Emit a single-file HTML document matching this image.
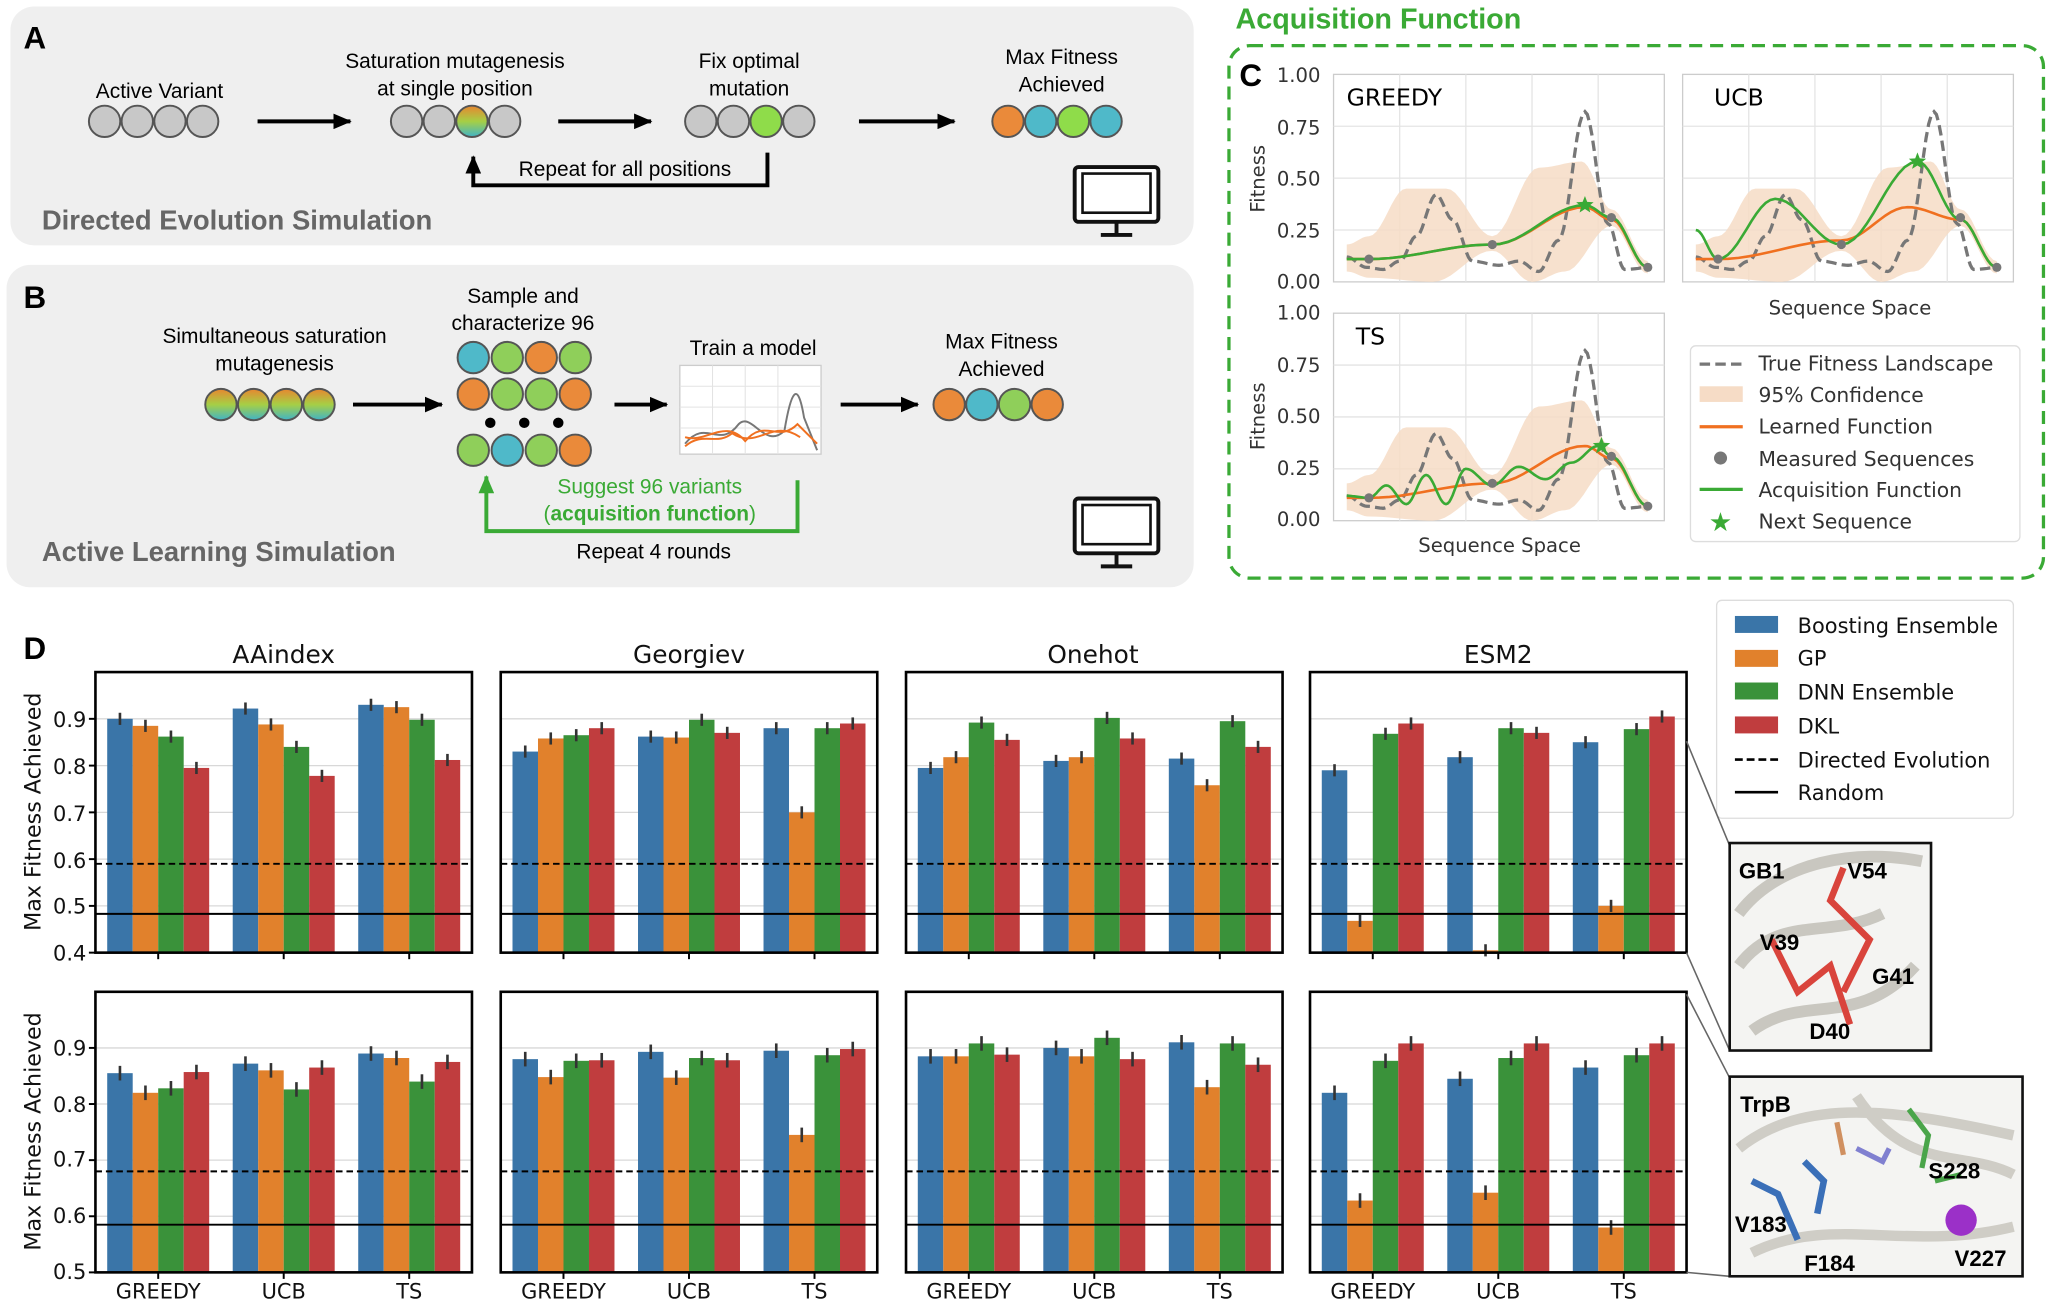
<!DOCTYPE html>
<html><head><meta charset="utf-8"><style>
html,body{margin:0;padding:0;background:#fff;}
svg{display:block;}
.t{font-family:"Liberation Sans",sans-serif;}
.d{font-family:"DejaVu Sans","Liberation Sans",sans-serif;}
</style></head><body>
<svg id="s" width="2050" height="1305" viewBox="0 0 1568 1000" preserveAspectRatio="none" xmlns="http://www.w3.org/2000/svg">
<rect width="1568" height="1000" fill="#fff"/>
<defs>
<marker id="ar" markerUnits="userSpaceOnUse" markerWidth="14" markerHeight="12" refX="13" refY="6" orient="auto"><path d="M0,0 L14,6 L0,12 z" fill="#000"/></marker>
<marker id="ag" markerUnits="userSpaceOnUse" markerWidth="14" markerHeight="12" refX="13" refY="6" orient="auto"><path d="M0,0 L14,6 L0,12 z" fill="#3aaa35"/></marker>
<linearGradient id="rb" x1="0" y1="0" x2="0" y2="1"><stop offset="0" stop-color="#e8862f"/><stop offset="0.5" stop-color="#a6cf45"/><stop offset="1" stop-color="#3fb4c8"/></linearGradient>
<g id="mon"><rect x="0" y="0" width="64" height="42" rx="3" fill="#fff" stroke="#111" stroke-width="3"/><rect x="6" y="5" width="52" height="30" fill="none" stroke="#111" stroke-width="2"/><line x1="32" y1="42" x2="32" y2="52" stroke="#111" stroke-width="3"/><line x1="20" y1="52" x2="44" y2="52" stroke="#111" stroke-width="3"/></g>
</defs>

<!-- Panel A -->
<rect x="8" y="5" width="905" height="183" rx="18" fill="#efefef"/>
<text x="18" y="37" class="t" font-size="24" font-weight="bold">A</text>
<text x="122" y="75" class="t" font-size="16" text-anchor="middle">Active Variant</text>
<g stroke="#555" stroke-width="1.5" fill="#c8c8c8"><circle cx="80" cy="93" r="12"/><circle cx="105" cy="93" r="12"/><circle cx="130" cy="93" r="12"/><circle cx="155" cy="93" r="12"/></g>
<line x1="197" y1="93" x2="268" y2="93" stroke="#000" stroke-width="3" marker-end="url(#ar)"/>
<text x="348" y="52" class="t" font-size="16" text-anchor="middle">Saturation mutagenesis</text>
<text x="348" y="73" class="t" font-size="16" text-anchor="middle">at single position</text>
<g stroke="#555" stroke-width="1.5"><circle cx="311" cy="93" r="12" fill="#c8c8c8"/><circle cx="336" cy="93" r="12" fill="#c8c8c8"/><circle cx="361" cy="93" r="12" fill="url(#rb)"/><circle cx="386" cy="93" r="12" fill="#c8c8c8"/></g>
<line x1="427" y1="93" x2="498" y2="93" stroke="#000" stroke-width="3" marker-end="url(#ar)"/>
<text x="573" y="52" class="t" font-size="16" text-anchor="middle">Fix optimal</text>
<text x="573" y="73" class="t" font-size="16" text-anchor="middle">mutation</text>
<g stroke="#555" stroke-width="1.5"><circle cx="536" cy="93" r="12" fill="#c8c8c8"/><circle cx="561" cy="93" r="12" fill="#c8c8c8"/><circle cx="586" cy="93" r="12" fill="#8fdc4a"/><circle cx="611" cy="93" r="12" fill="#c8c8c8"/></g>
<line x1="657" y1="93" x2="730" y2="93" stroke="#000" stroke-width="3" marker-end="url(#ar)"/>
<text x="812" y="49" class="t" font-size="16" text-anchor="middle">Max Fitness</text>
<text x="812" y="70" class="t" font-size="16" text-anchor="middle">Achieved</text>
<g stroke="#555" stroke-width="1.5"><circle cx="771" cy="93" r="12" fill="#ea8a3a"/><circle cx="796" cy="93" r="12" fill="#4fb9c9"/><circle cx="821" cy="93" r="12" fill="#8fdc4a"/><circle cx="846" cy="93" r="12" fill="#4fb9c9"/></g>
<path d="M587,117 L587,142 L362,142 L362,120" fill="none" stroke="#000" stroke-width="3" marker-end="url(#ar)"/>
<text x="478" y="135" class="t" font-size="16" text-anchor="middle">Repeat for all positions</text>
<text x="32" y="176" class="t" font-size="21" font-weight="bold" fill="#666">Directed Evolution Simulation</text>
<use href="#mon" x="822" y="128"/>

<!-- Panel B -->
<rect x="5" y="203" width="908" height="247" rx="18" fill="#efefef"/>
<text x="18" y="236" class="t" font-size="24" font-weight="bold">B</text>
<text x="210" y="263" class="t" font-size="16" text-anchor="middle">Simultaneous saturation</text>
<text x="210" y="284" class="t" font-size="16" text-anchor="middle">mutagenesis</text>
<g stroke="#555" stroke-width="1.5" fill="url(#rb)"><circle cx="169" cy="310" r="12"/><circle cx="194" cy="310" r="12"/><circle cx="219" cy="310" r="12"/><circle cx="244" cy="310" r="12"/></g>
<line x1="270" y1="310" x2="338" y2="310" stroke="#000" stroke-width="3" marker-end="url(#ar)"/>
<text x="400" y="232" class="t" font-size="16" text-anchor="middle">Sample and</text>
<text x="400" y="253" class="t" font-size="16" text-anchor="middle">characterize 96</text>
<g stroke="#555" stroke-width="1.5">
<circle cx="362" cy="274" r="12" fill="#4fb9c9"/><circle cx="388" cy="274" r="12" fill="#8fcf5a"/><circle cx="414" cy="274" r="12" fill="#ea8a3a"/><circle cx="440" cy="274" r="12" fill="#8fcf5a"/>
<circle cx="362" cy="302" r="12" fill="#ea8a3a"/><circle cx="388" cy="302" r="12" fill="#8fcf5a"/><circle cx="414" cy="302" r="12" fill="#8fcf5a"/><circle cx="440" cy="302" r="12" fill="#ea8a3a"/>
<circle cx="362" cy="345" r="12" fill="#8fcf5a"/><circle cx="388" cy="345" r="12" fill="#4fb9c9"/><circle cx="414" cy="345" r="12" fill="#8fcf5a"/><circle cx="440" cy="345" r="12" fill="#ea8a3a"/></g>
<circle cx="375" cy="324" r="4"/><circle cx="401" cy="324" r="4"/><circle cx="427" cy="324" r="4"/>
<line x1="470" y1="310" x2="510" y2="310" stroke="#000" stroke-width="3" marker-end="url(#ar)"/>
<text x="576" y="272" class="t" font-size="16" text-anchor="middle">Train a model</text>
<rect x="520" y="280" width="108" height="68" fill="#fff" stroke="#ccc"/>
<g stroke="#e3e3e3" stroke-width="0.8"><line x1="520" y1="296" x2="628" y2="296"/><line x1="520" y1="312" x2="628" y2="312"/><line x1="520" y1="328" x2="628" y2="328"/><line x1="545" y1="280" x2="545" y2="348"/><line x1="570" y1="280" x2="570" y2="348"/><line x1="595" y1="280" x2="595" y2="348"/></g>
<path d="M524,340 C540,320 550,345 565,325 C575,315 585,345 600,330 C605,300 610,290 615,320 L625,345" fill="none" stroke="#777" stroke-width="1.5"/>
<path d="M524,335 C540,340 555,320 570,338 C585,320 595,340 610,325 L625,340" fill="none" stroke="#f07020" stroke-width="1.5"/>
<path d="M524,342 C538,330 548,342 560,332 C580,345 590,320 612,335" fill="none" stroke="#f07020" stroke-width="1.5"/>
<line x1="643" y1="310" x2="702" y2="310" stroke="#000" stroke-width="3" marker-end="url(#ar)"/>
<text x="766" y="267" class="t" font-size="16" text-anchor="middle">Max Fitness</text>
<text x="766" y="288" class="t" font-size="16" text-anchor="middle">Achieved</text>
<g stroke="#555" stroke-width="1.5"><circle cx="726" cy="310" r="12" fill="#ea8a3a"/><circle cx="751" cy="310" r="12" fill="#4fb9c9"/><circle cx="776" cy="310" r="12" fill="#8fcf5a"/><circle cx="801" cy="310" r="12" fill="#ea8a3a"/></g>
<path d="M610,368 L610,407 L372,407 L372,365" fill="none" stroke="#3aaa35" stroke-width="3" marker-end="url(#ag)"/>
<text x="497" y="378" class="t" font-size="16" text-anchor="middle" fill="#3aaa35">Suggest 96 variants</text>
<text x="497" y="399" class="t" font-size="16" text-anchor="middle" fill="#3aaa35">(<tspan font-weight="bold">acquisition function</tspan>)</text>
<text x="500" y="428" class="t" font-size="16" text-anchor="middle">Repeat 4 rounds</text>
<text x="32" y="430" class="t" font-size="21" font-weight="bold" fill="#666">Active Learning Simulation</text>
<use href="#mon" x="822" y="382"/>

<!-- Panel C -->
<text x="945" y="22" class="t" font-size="22" font-weight="bold" fill="#3aaa35">Acquisition Function</text>
<rect x="940" y="35" width="623" height="408" rx="16" fill="none" stroke="#3aaa35" stroke-width="2.5" stroke-dasharray="10,6"/>
<text x="948" y="66" class="t" font-size="24" font-weight="bold">C</text>
<g id="cplots"></g>
<g class="d" font-size="15" fill="#333">
<text x="1010" y="63" text-anchor="end">1.00</text><text x="1010" y="103" text-anchor="end">0.75</text><text x="1010" y="142" text-anchor="end">0.50</text><text x="1010" y="182" text-anchor="end">0.25</text><text x="1010" y="221" text-anchor="end">0.00</text>
<text x="1010" y="245" text-anchor="end">1.00</text><text x="1010" y="285" text-anchor="end">0.75</text><text x="1010" y="324" text-anchor="end">0.50</text><text x="1010" y="364" text-anchor="end">0.25</text><text x="1010" y="403" text-anchor="end">0.00</text>
<text transform="translate(967,137) rotate(-90)" text-anchor="middle">Fitness</text>
<text transform="translate(967,319) rotate(-90)" text-anchor="middle">Fitness</text>
<text x="1415" y="241" text-anchor="middle">Sequence Space</text>
<text x="1147" y="423" text-anchor="middle">Sequence Space</text>
<text x="1030" y="81" font-size="18" fill="#000">GREEDY</text>
<text x="1311" y="81" font-size="18" fill="#000">UCB</text>
<text x="1037" y="264" font-size="18" fill="#000">TS</text>
</g>
<rect x="1293" y="265" width="252" height="150" rx="4" fill="#fff" stroke="#ddd"/>
<g class="d" font-size="15.5" fill="#333">
<line x1="1300" y1="279" x2="1333" y2="279" stroke="#777" stroke-width="2.5" stroke-dasharray="8,4"/><text x="1345" y="284">True Fitness Landscape</text>
<rect x="1300" y="296" width="33" height="12" fill="#f6dcc6"/><text x="1345" y="308">95% Confidence</text>
<line x1="1300" y1="327" x2="1333" y2="327" stroke="#f07020" stroke-width="2.5"/><text x="1345" y="332">Learned Function</text>
<circle cx="1316" cy="351" r="5" fill="#777"/><text x="1345" y="357">Measured Sequences</text>
<line x1="1300" y1="375" x2="1333" y2="375" stroke="#3aaa35" stroke-width="2.5"/><text x="1345" y="381">Acquisition Function</text>
<text x="1316" y="407" text-anchor="middle" fill="#3aaa35" font-size="20">★</text><text x="1345" y="405">Next Sequence</text>
</g>

<!-- Panel D -->
<text x="18" y="505" class="t" font-size="24" font-weight="bold">D</text>
<g id="bars"></g>
<g class="d" font-size="19" fill="#111" text-anchor="middle">
<text x="217" y="508">AAindex</text><text x="527" y="508">Georgiev</text><text x="836" y="508">Onehot</text><text x="1146" y="508">ESM2</text>
</g>
<g class="d" font-size="16" fill="#111" text-anchor="end">
<text x="66" y="736">0.4</text><text x="66" y="700">0.5</text><text x="66" y="665">0.6</text><text x="66" y="629">0.7</text><text x="66" y="593">0.8</text><text x="66" y="557">0.9</text>
<text x="66" y="980">0.5</text><text x="66" y="937">0.6</text><text x="66" y="894">0.7</text><text x="66" y="852">0.8</text><text x="66" y="809">0.9</text>
</g>
<g class="d" font-size="17" fill="#111">
<text transform="translate(31,622) rotate(-90)" text-anchor="middle">Max Fitness Achieved</text>
<text transform="translate(31,867) rotate(-90)" text-anchor="middle">Max Fitness Achieved</text>
</g>
<g class="d" font-size="16" fill="#111" text-anchor="middle">
<text x="121" y="995">GREEDY</text><text x="217" y="995">UCB</text><text x="313" y="995">TS</text>
<text x="431" y="995">GREEDY</text><text x="527" y="995">UCB</text><text x="623" y="995">TS</text>
<text x="741" y="995">GREEDY</text><text x="837" y="995">UCB</text><text x="933" y="995">TS</text>
<text x="1050" y="995">GREEDY</text><text x="1146" y="995">UCB</text><text x="1242" y="995">TS</text>
</g>
<rect x="1313" y="460" width="227" height="167" rx="4" fill="#fff" stroke="#ddd"/>
<g class="d" font-size="16" fill="#111">
<rect x="1327" y="472" width="33" height="13" fill="#3a75a8"/><text x="1375" y="485">Boosting Ensemble</text>
<rect x="1327" y="498" width="33" height="13" fill="#e1812c"/><text x="1375" y="510">GP</text>
<rect x="1327" y="523" width="33" height="13" fill="#3a923a"/><text x="1375" y="536">DNN Ensemble</text>
<rect x="1327" y="549" width="33" height="13" fill="#c03d3e"/><text x="1375" y="562">DKL</text>
<line x1="1327" y1="582" x2="1360" y2="582" stroke="#000" stroke-width="2" stroke-dasharray="6,3"/><text x="1375" y="588">Directed Evolution</text>
<line x1="1327" y1="607" x2="1360" y2="607" stroke="#000" stroke-width="2"/><text x="1375" y="613">Random</text>
</g>
<g stroke="#666" stroke-width="1.2">
<line x1="1290" y1="568" x2="1323" y2="648"/><line x1="1290" y1="730" x2="1323" y2="805"/>
<line x1="1290" y1="762" x2="1323" y2="826"/><line x1="1290" y1="975" x2="1323" y2="978"/>
</g>
<!-- GB1 -->
<rect x="1323" y="646" width="154" height="159" fill="#f4f4f2" stroke="#111" stroke-width="2"/>
<path d="M1330,700 C1360,660 1420,650 1470,660 M1340,790 C1380,760 1420,790 1465,740 M1330,740 C1360,700 1400,720 1440,700" stroke="#c9c7c0" stroke-width="9" fill="none"/>
<path d="M1355,720 L1375,760 L1400,740 L1415,785 M1410,760 L1430,720 L1400,690 L1410,665" stroke="#d9443c" stroke-width="5" fill="none"/>
<g class="t" font-size="17" font-weight="bold"><text x="1330" y="673">GB1</text><text x="1413" y="673">V54</text><text x="1346" y="728">V39</text><text x="1432" y="754">G41</text><text x="1384" y="796">D40</text></g>
<!-- TrpB -->
<rect x="1323" y="825" width="224" height="153" fill="#f4f4f2" stroke="#111" stroke-width="2"/>
<path d="M1330,880 C1380,840 1450,850 1540,870 M1340,960 C1400,930 1460,960 1540,940 M1420,840 C1460,900 1500,880 1540,900" stroke="#cfcdc6" stroke-width="8" fill="none"/>
<path d="M1340,905 L1360,915 L1375,950 M1380,890 L1395,905 L1390,930" stroke="#3a6fb8" stroke-width="5" fill="none"/>
<path d="M1420,880 L1440,890 L1445,880" stroke="#8080d0" stroke-width="4" fill="none"/>
<path d="M1460,850 L1475,870 L1470,895 M1480,905 L1500,900" stroke="#4aa54a" stroke-width="4" fill="none"/>
<path d="M1405,860 L1410,885" stroke="#d09060" stroke-width="4" fill="none"/>
<circle cx="1500" cy="935" r="12" fill="#9b30c8"/>
<g class="t" font-size="17" font-weight="bold"><text x="1331" y="852">TrpB</text><text x="1475" y="903">S228</text><text x="1327" y="944">V183</text><text x="1380" y="974">F184</text><text x="1495" y="970">V227</text></g>
</svg>
<script>
(function(){
var NS="http://www.w3.org/2000/svg";
function el(p,t,a){var e=document.createElementNS(NS,t);for(var k in a)e.setAttribute(k,a[k]);p.appendChild(e);return e;}
var B=document.getElementById("bars");
var cols=[73,383,693,1002],tops=[515,760],bots=[730,975],vmin=[0.4,0.5];
var C=["#3a75a8","#e1812c","#3a923a","#c03d3e"];
var D=[[[[.90,.885,.862,.795],[.922,.888,.84,.778],[.93,.925,.898,.812]],
[[.83,.858,.865,.88],[.862,.86,.898,.87],[.88,.70,.88,.89]],
[[.795,.818,.892,.855],[.81,.818,.902,.858],[.815,.758,.895,.84]],
[[.79,.468,.868,.89],[.818,.405,.88,.87],[.85,.5,.878,.905]]],
[[[.855,.82,.828,.857],[.872,.86,.826,.865],[.89,.882,.84,.875]],
[[.88,.848,.877,.878],[.893,.847,.882,.878],[.895,.745,.887,.898]],
[[.885,.885,.908,.888],[.9,.885,.918,.88],[.91,.83,.908,.87]],
[[.82,.628,.877,.908],[.845,.642,.882,.908],[.865,.58,.887,.908]]]];
var dash=[0.59,0.68],sol=[0.483,0.585];
for(var r=0;r<2;r++){var tp=tops[r],bt=bots[r],vm=vmin[r];
 function Y(v){return bt-(v-vm)/(1-vm)*(bt-tp);}
 for(var c=0;c<4;c++){var x0=cols[c];
  el(B,"rect",{x:x0,y:tp,width:288,height:bt-tp,fill:"#fff"});
  for(var v=vm+0.1;v<0.99;v+=0.1)el(B,"line",{x1:x0,x2:x0+288,y1:Y(v),y2:Y(v),stroke:"#d8d8d8","stroke-width":1});
  for(var g=0;g<3;g++){var cx=x0+48+96*g;
   for(var i=0;i<4;i++){var v=D[r][c][g][i],bx=cx-39+19.5*i;
    el(B,"rect",{x:bx,y:Y(v),width:19.5,height:bt-Y(v),fill:C[i]});
    el(B,"line",{x1:bx+9.75,x2:bx+9.75,y1:Y(v+0.013),y2:Y(v-0.013),stroke:"#333","stroke-width":2});}
   el(B,"line",{x1:cx,x2:cx,y1:bt,y2:bt+5,stroke:"#000","stroke-width":1.5});}
  el(B,"line",{x1:x0,x2:x0+288,y1:Y(dash[r]),y2:Y(dash[r]),stroke:"#000","stroke-width":1.5,"stroke-dasharray":"5,3"});
  el(B,"line",{x1:x0,x2:x0+288,y1:Y(sol[r]),y2:Y(sol[r]),stroke:"#000","stroke-width":1.5});
  el(B,"rect",{x:x0,y:tp,width:288,height:bt-tp,fill:"none",stroke:"#000","stroke-width":2});
  if(c==0)for(var v=vm;v<0.99;v+=0.1)el(B,"line",{x1:x0-5,x2:x0,y1:Y(v),y2:Y(v),stroke:"#000","stroke-width":1.5});
 }}
var P=document.getElementById("cplots");
function pth(pts,W,H){var s="";for(var i=0;i<pts.length;i++){s+=(i?"L":"M")+(pts[i][0]*W).toFixed(1)+","+(H*(1-pts[i][1])).toFixed(1);}return s;}
function smooth(k,n){var o=[];for(var i=0;i<k.length-1;i++){for(var j=0;j<n;j++){var t=j/n,a=k[i],b=k[i+1],s=(1-Math.cos(Math.PI*t))/2;o.push([a[0]+(b[0]-a[0])*t,a[1]+(b[1]-a[1])*s]);}}o.push(k[k.length-1]);return o;}
var truek=[[.04,.12],[.1,.07],[.15,.06],[.2,.1],[.25,.22],[.31,.42],[.36,.3],[.42,.1],[.5,.08],[.56,.1],[.62,.05],[.68,.2],[.76,.82],[.83,.28],[.88,.06],[.96,.07]];
var meas=[[.107,.11],[.48,.18],[.84,.31],[.95,.07]];
var upper=[[.04,.18],[.107,.22],[.22,.45],[.34,.45],[.48,.22],[.62,.55],[.75,.58],[.84,.35],[.95,.1]];
var lower=[[.95,.04],[.84,.27],[.7,.05],[.6,.0],[.48,.15],[.3,0],[.107,.02],[.04,.05]];
var plots=[{x:1020,y:57,g:[[.04,.11],[.107,.11],[.48,.18],[.76,.37],[.84,.31],[.95,.07]],o:[[.04,.11],[.107,.11],[.48,.18],[.76,.36],[.84,.3],[.95,.07]],st:[.76,.37]},
{x:1287,y:57,g:[[.04,.25],[.107,.11],[.28,.4],[.48,.18],[.71,.58],[.84,.3],[.95,.07]],o:[[.04,.11],[.107,.11],[.48,.2],[.68,.36],[.84,.3],[.95,.07]],st:[.71,.58]},
{x:1020,y:240,g:[[.04,.12],[.107,.11],[.16,.17],[.22,.08],[.28,.22],[.34,.08],[.4,.25],[.48,.17],[.56,.26],[.64,.2],[.72,.28],[.8,.36],[.84,.31],[.95,.07]],o:[[.04,.11],[.107,.11],[.48,.18],[.76,.36],[.84,.3],[.95,.07]],st:[.81,.36]}];
var W=253,H=159;
plots.forEach(function(p){var g=el(P,"g",{transform:"translate("+p.x+","+p.y+")"});
 el(g,"rect",{x:0,y:0,width:W,height:H,fill:"#fff",stroke:"#ccc"});
 for(var i=1;i<4;i++)el(g,"line",{x1:0,x2:W,y1:H*i/4,y2:H*i/4,stroke:"#e4e4e4"});
 for(var i=1;i<5;i++)el(g,"line",{x1:W*i/5,x2:W*i/5,y1:0,y2:H,stroke:"#e4e4e4"});
 el(g,"path",{d:pth(smooth(upper,10).concat(smooth(lower,10)),W,H)+"Z",fill:"#f6dcc6",opacity:0.85});
 el(g,"path",{d:pth(smooth(truek,10),W,H),fill:"none",stroke:"#777","stroke-width":2.5,"stroke-dasharray":"8,4"});
 el(g,"path",{d:pth(smooth(p.o,12),W,H),fill:"none",stroke:"#f07020","stroke-width":2});
 el(g,"path",{d:pth(smooth(p.g,12),W,H),fill:"none",stroke:"#3aaa35","stroke-width":2});
 meas.forEach(function(m){el(g,"circle",{cx:m[0]*W,cy:H*(1-m[1]),r:3.5,fill:"#777"});});
 var sx=p.st[0]*W,sy=H*(1-p.st[1]),s="";
 for(var i=0;i<10;i++){var a=-Math.PI/2+i*Math.PI/5,rr=i%2?3:7;s+=(i?"L":"M")+(sx+rr*Math.cos(a)).toFixed(1)+","+(sy+rr*Math.sin(a)).toFixed(1);}
 el(g,"path",{d:s+"Z",fill:"#3aaa35"});
});
})();
</script>
</body></html>
